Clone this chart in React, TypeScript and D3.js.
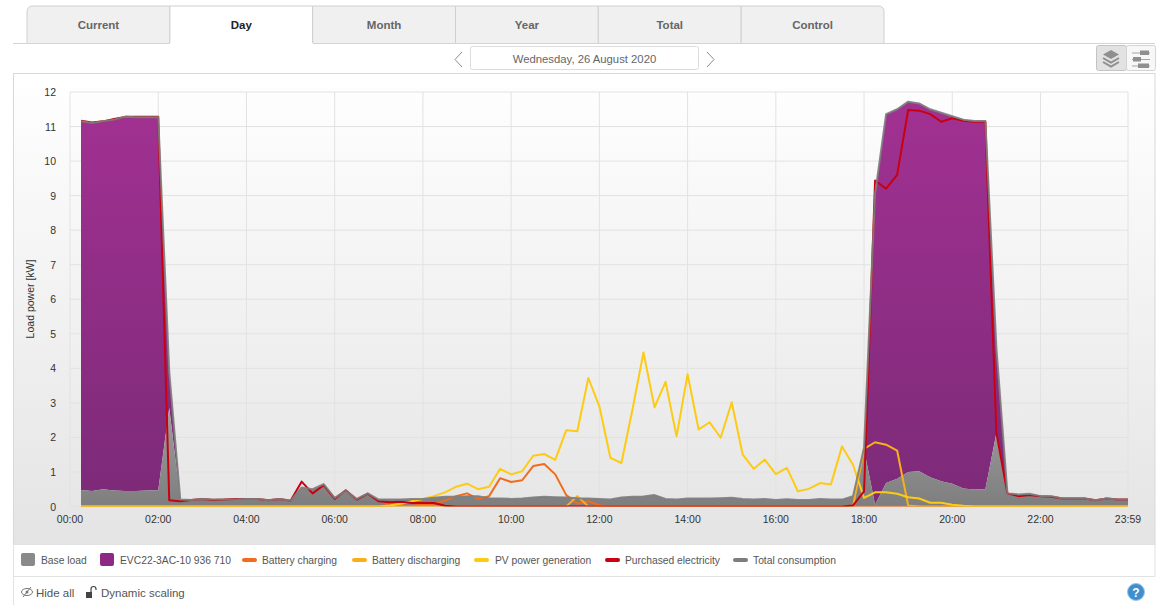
import React from "react";
import * as d3 from "d3";

// quarter-hour stamps in minutes, 00:15 ... 23:45 and 23:59
const minutes = [
  15, 30, 45,
  60, 75, 90, 105, 120, 135, 150, 165, 180, 195, 210, 225, 240, 255, 270, 285,
  300, 315, 330, 345, 360, 375, 390, 405, 420, 435, 450, 465, 480, 495, 510, 525,
  540, 555, 570, 585, 600, 615, 630, 645, 660, 675, 690, 705, 720, 735, 750, 765,
  780, 795, 810, 825, 840, 855, 870, 885, 900, 915, 930, 945, 960, 975, 990, 1005,
  1020, 1035, 1050, 1065, 1080, 1095, 1110, 1125, 1140, 1155, 1170, 1185, 1200, 1215, 1230, 1245,
  1260, 1275, 1290, 1305, 1320, 1335, 1350, 1365, 1380, 1395, 1410, 1425, 1439,
];
const baseLoad = [
  .48, .45, .50,
  .46, .45, .45, .46, .47, 2.85, .20, .19, .22, .20, .20, .20, .22, .22, .18, .22,
  .17, .55, .50, .65, .25, .45, .22, .38, .20, .20, .20, .22, .22, .25, .28, .28,
  .30, .30, .24, .23, .22, .23, .26, .28, .27, .26, .24, .23, .22, .20, .26, .28,
  .29, .33, .22, .20, .23, .23, .23, .24, .25, .22, .20, .22, .19, .21, .19, .19,
  .22, .20, .20, .30, 1.65, .05, .68, .80, 1.00, 1.02, .85, .73, .66, .52, .49, .50,
  2.13, .38, .35, .37, .30, .30, .23, .23, .23, .18, .23, .20, .20,
];
const evc = [
  10.67, 10.65, 10.65,
  10.74, 10.83, 10.82, 10.81, 10.80, 1.05, 0, 0, 0, 0, 0, 0, 0, 0, 0, 0,
  0, 0, 0, 0, 0, 0, 0, 0, 0, 0, 0, 0, 0, 0, 0, 0,
  0, 0, 0, 0, 0, 0, 0, 0, 0, 0, 0, 0, 0, 0, 0, 0,
  0, 0, 0, 0, 0, 0, 0, 0, 0, 0, 0, 0, 0, 0, 0, 0,
  0, 0, 0, 0, .05, 9.00, 10.68, 10.70, 10.72, 10.65, 10.65, 10.67, 10.64, 10.68, 10.67, 10.66,
  2.47, 0, 0, 0, 0, 0, 0, 0, 0, 0, 0, 0, 0,
];
const charging = [
  0, 0, 0,
  0, 0, 0, 0, 0, 0, 0, 0, 0, 0, 0, 0, 0, 0, 0, 0,
  0, 0, 0, 0, 0, 0, 0, 0, 0, .05, .08, .10, .05, .08, .17, .30,
  .38, .22, .30, .82, .71, .76, 1.17, 1.23, .93, .33, .08, .15, .04, 0, 0, 0,
  0, 0, 0, 0, 0, 0, 0, 0, 0, 0, 0, 0, 0, 0, 0, 0,
  0, 0, 0, 0, 0, 0, 0, 0, 0, 0, 0, 0, 0, 0, 0, 0,
  0, 0, 0, 0, 0, 0, 0, 0, 0, 0, 0, 0, 0,
];
const discharging = [
  0, 0, 0,
  0, 0, 0, 0, 0, 0, 0, 0, 0, 0, 0, 0, 0, 0, 0, 0,
  0, 0, 0, 0, 0, 0, 0, 0, 0, 0, 0, 0, 0, 0, 0, 0,
  0, 0, 0, 0, 0, 0, 0, 0, 0, 0, .30, 0, 0, 0, 0, 0,
  0, 0, 0, 0, 0, 0, 0, 0, 0, 0, 0, 0, 0, 0, 0, 0,
  0, 0, 0, 0, 1.67, 1.86, 1.79, 1.62, .03, 0, 0, 0, 0, 0, 0, 0,
  0, 0, 0, 0, 0, 0, 0, 0, 0, 0, 0, 0, 0,
];
const pv = [
  0, 0, 0,
  0, 0, 0, 0, 0, 0, 0, 0, 0, 0, 0, 0, 0, 0, 0, 0,
  0, 0, 0, 0, 0, 0, 0, 0, 0, .03, .08, .15, .22, .30, .41, .57,
  .66, .50, .57, 1.09, .93, 1.02, 1.47, 1.52, 1.35, 2.21, 2.18, 3.72, 2.90, 1.41, 1.26, 2.81,
  4.46, 2.87, 3.61, 2.03, 3.83, 2.23, 2.44, 1.99, 3.02, 1.50, 1.09, 1.36, .94, 1.12, .44, .51,
  .68, .64, 1.74, 1.21, .25, .41, .41, .37, .27, .23, .11, .11, .05, .02, 0, 0,
  0, 0, 0, 0, 0, 0, 0, 0, 0, 0, 0, 0, 0,
];
const purchased = [
  11.17, 11.12, 11.15,
  11.22, 11.28, 11.28, 11.28, 11.28, .18, .15, .19, .22, .19, .20, .22, .22, .22, .18, .22,
  .17, .72, .38, .62, .22, .47, .20, .37, .15, .12, .14, .10, .10, .10, .02, 0,
  0, 0, 0, 0, 0, 0, 0, 0, 0, 0, 0, 0, 0, 0, 0, 0,
  0, 0, 0, 0, 0, 0, 0, 0, 0, 0, 0, 0, 0, 0, 0, 0,
  0, 0, 0, .03, .44, 9.44, 9.20, 9.60, 11.48, 11.46, 11.36, 11.14, 11.24, 11.17, 11.14, 11.14,
  2.13, .38, .30, .33, .30, .28, .23, .23, .23, .18, .23, .20, .20,
];
const totalConsumption = [
  11.15, 11.10, 11.15,
  11.20, 11.28, 11.27, 11.27, 11.27, 3.90, .20, .19, .22, .20, .20, .20, .22, .22, .18, .22,
  .17, .55, .50, .65, .25, .45, .22, .38, .20, .20, .20, .22, .22, .25, .28, .28,
  .30, .30, .24, .23, .22, .23, .26, .28, .27, .26, .24, .23, .22, .20, .26, .28,
  .29, .33, .22, .20, .23, .23, .23, .24, .25, .22, .20, .22, .19, .21, .19, .19,
  .22, .20, .20, .30, 1.70, 9.05, 11.36, 11.50, 11.72, 11.67, 11.50, 11.40, 11.30, 11.20, 11.16, 11.16,
  4.60, .38, .35, .37, .30, .30, .23, .23, .23, .18, .23, .20, .20,
];

const tabs = ["Current", "Day", "Month", "Year", "Total", "Control"];
const xTickMinutes = [0, 120, 240, 360, 480, 600, 720, 840, 960, 1080, 1200, 1320, 1439];
const xTickLabels = ["00:00", "02:00", "04:00", "06:00", "08:00", "10:00", "12:00", "14:00", "16:00", "18:00", "20:00", "22:00", "23:59"];
const yTicks = [0, 1, 2, 3, 4, 5, 6, 7, 8, 9, 10, 11, 12];
const FONT = "'Liberation Sans', Arial, sans-serif";

const x = d3.scaleLinear().domain([0, 1439]).range([70, 1128]);
const y = d3.scaleLinear().domain([0, 12]).range([506.5, 92]);

const rows = minutes.map((m, i) => ({ m, base: baseLoad[i], evc: evc[i] }));
const stacked = d3.stack<any>().keys(["base", "evc"])(rows);
const area = d3
  .area<any>()
  .x((d) => x(d.data.m))
  .y0((d) => y(d[0]))
  .y1((d) => y(d[1]));
const line = d3
  .line<number>()
  .x((_, i) => x(minutes[i]))
  .y((d) => y(d));

const lines = [
  { key: "charging", values: charging, color: "#f26b1d" },
  { key: "discharging", values: discharging, color: "#f7b01c" },
  { key: "pv", values: pv, color: "#fdcb14" },
  { key: "purchased", values: purchased, color: "#c9000f" },
  { key: "total", values: totalConsumption, color: "#7d7d7d" },
];

const tabX = d3.scaleLinear().domain([0, 6]).range([27, 884]);

const legendSwatches = [
  { label: "Base load", sx: 21, tx: 41, color: "#8a8a8a", box: true },
  { label: "EVC22-3AC-10 936 710", sx: 100, tx: 120, color: "#8f2a84", box: true },
  { label: "Battery charging", sx: 242, tx: 262, color: "#f26b1d", box: false },
  { label: "Battery discharging", sx: 352, tx: 372, color: "#f7b01c", box: false },
  { label: "PV power generation", sx: 474, tx: 495, color: "#fdcb14", box: false },
  { label: "Purchased electricity", sx: 605, tx: 625, color: "#c9000f", box: false },
  { label: "Total consumption", sx: 733, tx: 753, color: "#7d7d7d", box: false },
];

export default function App() {
  return (
    <svg
      width={1159}
      height={605}
      viewBox="0 0 1159 605"
      style={{ position: "absolute", left: 0, top: 0, display: "block", background: "#fff" }}
      fontFamily={FONT}
    >
      <defs>
        <linearGradient id="panelBg" x1="0" y1="0" x2="0" y2="1">
          <stop offset="0" stopColor="#ffffff" />
          <stop offset="1" stopColor="#e4e4e4" />
        </linearGradient>
        <linearGradient id="evcFill" gradientUnits="userSpaceOnUse" x1="0" y1="100" x2="0" y2="507">
          <stop offset="0" stopColor="#a23192" />
          <stop offset="1" stopColor="#7c2a78" />
        </linearGradient>
        <linearGradient id="baseFill" gradientUnits="userSpaceOnUse" x1="0" y1="400" x2="0" y2="507">
          <stop offset="0" stopColor="#a0a0a0" />
          <stop offset="1" stopColor="#7e7e7e" />
        </linearGradient>
        <clipPath id="plotClip">
          <rect x={70} y={85} width={1062} height={421.5} />
        </clipPath>
      </defs>

      {/* tabs */}
      {tabs.map((t, i) => {
        const x0 = tabX(i);
        const x1 = tabX(i + 1);
        const active = t === "Day";
        const r = 6;
        const d =
          i === 0
            ? `M${x0},43V${6 + r}Q${x0},6 ${x0 + r},6H${x1}V43`
            : i === 5
            ? `M${x0},43V6H${x1 - r}Q${x1},6 ${x1},${6 + r}V43`
            : `M${x0},43V6H${x1}V43`;
        return (
          <g key={t}>
            <path d={d} fill={active ? "#fff" : "#f0f0f0"} stroke="#cfcfcf" />
            <text
              x={(x0 + x1) / 2}
              y={28.5}
              textAnchor="middle"
              fontSize={11.5}
              fontWeight={700}
              fill={active ? "#222" : "#666"}
            >
              {t}
            </text>
          </g>
        );
      })}
      <path d="M13,43.5H170M313,43.5H1155" stroke="#d4d4d4" />

      {/* date navigation */}
      <path d="M462,52L455,59.5L462,67" fill="none" stroke="#8c8c8c" />
      <rect x={470.5} y={46.5} width={228} height={23} rx={2} fill="#fff" stroke="#dcdcdc" />
      <text x={584.5} y={63} textAnchor="middle" fontSize={11.3} fill="#666">
        Wednesday, 26 August 2020
      </text>
      <path d="M707,52L714,59.5L707,67" fill="none" stroke="#8c8c8c" />

      {/* view toggle */}
      <rect x={1096.5} y={45.5} width={30} height={25} rx={2} fill="#e2e2e2" stroke="#c4c4c4" />
      <rect x={1126.5} y={45.5} width={29} height={25} rx={2} fill="#f7f7f7" stroke="#d4d4d4" />
      <path d="M1111,50L1119,54.5L1111,59L1103,54.5Z" fill="#8f8f8f" />
      <path d="M1103,58L1111,62.5L1119,58M1103,62L1111,66.5L1119,62" fill="none" stroke="#8f8f8f" strokeWidth={2} />
      <path d="M1132,53H1150M1132,59.5H1150M1132,66H1150" stroke="#a5a5a5" />
      <rect x={1140} y={50.5} width={9} height={4.5} fill="#8f8f8f" />
      <rect x={1133} y={57} width={8} height={4.5} fill="#8f8f8f" />
      <rect x={1138} y={63.5} width={11} height={4.5} fill="#8f8f8f" />

      {/* chart panel */}
      <rect x={13.5} y={73.5} width={1141.5} height={471} fill="url(#panelBg)" stroke="#d8d8d8" />

      {/* grid */}
      {yTicks.map((t) => (
        <g key={t}>
          <line x1={70} x2={1128} y1={y(t)} y2={y(t)} stroke="#e2e2e2" />
          <text x={56} y={y(t) + 4} textAnchor="end" fontSize={10.5} fill="#333">
            {t}
          </text>
        </g>
      ))}
      {xTickMinutes.map((m, i) => (
        <g key={m}>
          <line x1={x(m)} x2={x(m)} y1={92} y2={506.5} stroke="#e2e2e2" />
          <text x={x(m)} y={523} textAnchor="middle" fontSize={10.5} fill="#333">
            {xTickLabels[i]}
          </text>
        </g>
      ))}
      <text
        transform="translate(34,299) rotate(-90)"
        textAnchor="middle"
        fontSize={10.5}
        fill="#333"
      >
        Load power [kW]
      </text>

      <g clipPath="url(#plotClip)">
        {/* stacked areas */}
        <path d={area(stacked[1] as any) ?? ""} fill="url(#evcFill)" />
        <path d={area(stacked[0] as any) ?? ""} fill="url(#baseFill)" />

        {/* lines */}
        {lines.map((l) => (
          <path
            key={l.key}
            d={line(l.values) ?? ""}
            fill="none"
            stroke={l.color}
            strokeWidth={2}
            strokeLinejoin="round"
            opacity={l.key === "total" ? 0.9 : 1}
          />
        ))}
      </g>

      {/* legend */}
      <rect x={13.5} y={544.5} width={1141.5} height={32} fill="#fff" stroke="#e2e2e2" />
      {legendSwatches.map((s) => (
        <g key={s.label}>
          {s.box ? (
            <rect x={s.sx} y={553} width={14} height={13} rx={2} fill={s.color} />
          ) : (
            <rect x={s.sx} y={558} width={15} height={4} rx={2} fill={s.color} />
          )}
          <text x={s.tx} y={564} fontSize={10.3} fill="#555">
            {s.label}
          </text>
        </g>
      ))}

      {/* footer */}
      <line x1={13.5} x2={13.5} y1={577} y2={605} stroke="#e2e2e2" />
      <ellipse cx={27} cy={592} rx={5.5} ry={3.5} fill="none" stroke="#777" />
      <circle cx={27} cy={592} r={1.5} fill="#777" />
      <line x1={23} x2={31} y1={597} y2={587} stroke="#777" />
      <text x={36} y={597} fontSize={11.5} fill="#555">
        Hide all
      </text>
      <rect x={86} y={592} width={6} height={6} fill="#444" />
      <path d="M91,592V589A2.5,2.5 0 0 1 96,589V590" fill="none" stroke="#444" strokeWidth={1.2} />
      <text x={101} y={597} fontSize={11.5} fill="#555">
        Dynamic scaling
      </text>
      <circle cx={1136} cy={592} r={8.5} fill="#3f8fd0" stroke="#9cc6e6" />
      <text x={1136} y={596.5} textAnchor="middle" fontSize={12} fontWeight={700} fill="#fff">
        ?
      </text>
    </svg>
  );
}
